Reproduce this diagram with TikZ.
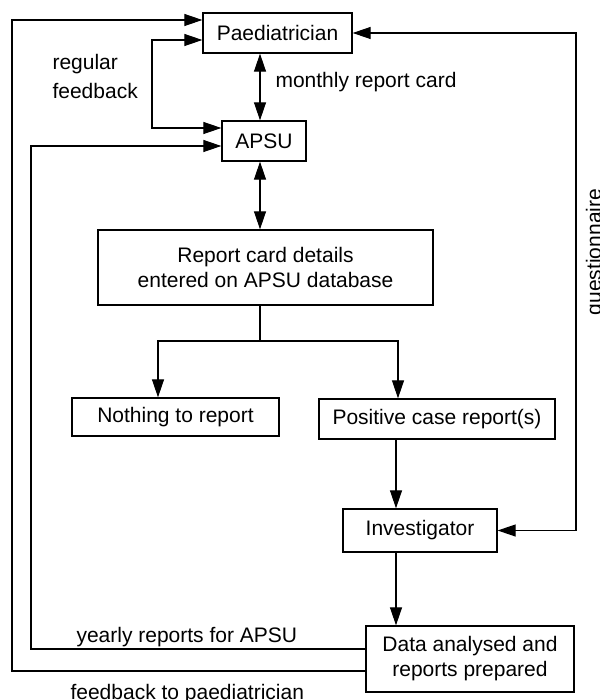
\documentclass[tikz,border=0pt]{standalone}
\usepackage{fontspec}
\setmainfont{Liberation Sans}
\usetikzlibrary{positioning}
\usetikzlibrary{arrows.meta}
\tikzset{
        basenode/.style={align=center, font=\fontsize{21}{25}\selectfont},
        % Boxes of the flow
        node_box/.style={basenode, rectangle, draw=black, line width=1.3pt, inner sep=0pt},
        % Free text beside the lines
        node_text/.style={basenode, inner sep=0pt}
}

\begin{document}
\begin{tikzpicture}[
            x=1pt, y=-1pt,
            line width=1.1pt,
            >={Triangle[length=18pt,width=12pt]}
        ]
            \useasboundingbox (0,0) rectangle (599,700);
            % Boxes
            \node[node_box, minimum width=149pt, minimum height=40pt] (paed) at (277.5,33) {Paediatrician};
            \node[node_box, minimum width=84pt, minimum height=40pt] (apsu) at (264,141) {APSU};
            \node[node_box, minimum width=335pt, minimum height=75pt] (card) at (265.5,267.5) {Report card details\\entered on APSU database};
            \node[node_box, minimum width=207pt, minimum height=38pt] (nothing) at (175.5,417) {Nothing to report};
            \node[node_box, minimum width=236pt, minimum height=40pt] (positive) at (437,419) {Positive case report(s)};
            \node[node_box, minimum width=154pt, minimum height=43pt] (investigator) at (420,530.5) {Investigator};
            \node[node_box, minimum width=208pt, minimum height=66pt] (data) at (470,659) {Data analysed and\\reports prepared};
            % Labels
            \node[node_text, anchor=base west] (monthly) at (275,88) {monthly report card};
            \node[node_text, anchor=west, align=left] (regular) at (52,76) {regular\\[4pt]feedback};
            \node[node_text, anchor=base west] (yearly) at (76,642) {yearly reports for APSU};
            \node[node_text, anchor=base west] (fbpaed) at (70,699) {feedback to paediatrician};
            \node[node_text, anchor=base, rotate=90] (quest) at (601,252) {questionnaire};
            % Columns and rows of the lines
            \coordinate (col_out) at (12,0);
            \coordinate (col_yr) at (31,0);
            \coordinate (col_fb) at (152,0);
            \coordinate (col_left) at (158,0);
            \coordinate (col_mid) at (260,0);
            \coordinate (col_inv) at (396,0);
            \coordinate (col_right) at (398,0);
            \coordinate (col_q) at (576,0);
            \coordinate (row_split) at (0,341);
            % Main flow
            \draw[<->] (paed.south -| col_mid) -- (apsu.north -| col_mid);
            \draw[<->] (apsu.south -| col_mid) -- (card.north -| col_mid);
            \draw (card.south -| col_mid) -- (row_split -| col_mid);
            \draw[->] (row_split -| col_mid) -| (nothing.north -| col_left);
            \draw[->] (row_split -| col_mid) -| (positive.north -| col_right);
            \draw[->] (positive.south -| col_inv) -- (investigator.north -| col_inv);
            \draw[->] (investigator.south -| col_inv) -- (data.north -| col_inv);
            % Loops back
            \draw[<->] (paed.east) -- (paed.east -| col_q) -- (investigator.east -| col_q) -- (investigator.east);
            \draw[<->] ([yshift=-7pt]paed.west) -| ([yshift=13pt]apsu.west -| col_fb) -- ([yshift=13pt]apsu.west);
            \draw[->] ([yshift=-12pt]data.west) -| ([yshift=13pt]paed.west -| col_out) -- ([yshift=13pt]paed.west);
            \draw[->] ([yshift=10pt]data.west) -| ([yshift=-5pt]apsu.west -| col_yr) -- ([yshift=-5pt]apsu.west);
        \end{tikzpicture}
\end{document}
